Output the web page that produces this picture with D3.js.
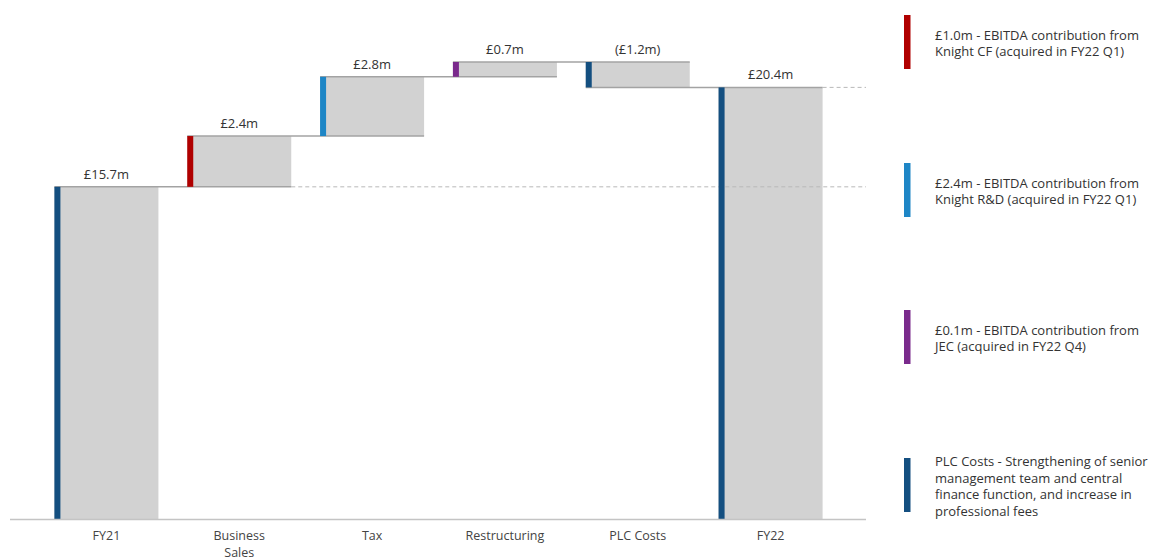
<!DOCTYPE html>
<html>
<head>
<meta charset="utf-8">
<script src="https://cdn.jsdelivr.net/npm/d3@7"></script>
<style>
  html, body { margin: 0; padding: 0; background: #fff; }
  svg { display: block; }
  text { font-family: "Open Sans", "Lato", sans-serif; }
</style>
</head>
<body>
<svg id="chart" width="1154" height="559"></svg>
<script>
// EBITDA bridge FY21 -> FY22 (£m)
const categories = ["FY21", "Business Sales", "Tax", "Restructuring", "PLC Costs", "FY22"];
const axisLabels = [["FY21"], ["Business", "Sales"], ["Tax"], ["Restructuring"], ["PLC Costs"], ["FY22"]];
const values = [15.7, 2.4, 2.8, 0.7, -1.2, 20.4];
const isTotal = [true, false, false, false, false, true];
const stripeColors = ["#144f80", "#b00000", "#1e86c6", "#7a2a8c", "#144f80", "#144f80"];

const legendColors = ["#b00000", "#1e86c6", "#7a2a8c", "#144f80"];
const legendLines = [
  ["£1.0m - EBITDA contribution from", "Knight CF (acquired in FY22 Q1)"],
  ["£2.4m - EBITDA contribution from", "Knight R&D (acquired in FY22 Q1)"],
  ["£0.1m -  EBITDA contribution from", "JEC (acquired in FY22 Q4)"],
  ["PLC Costs - Strengthening of senior", "management team and central", "finance function, and increase in", "professional fees"]
];

// running start/end levels for each bar
let running = 0;
const bars = categories.map((c, i) => {
  let start, end;
  if (isTotal[i]) { start = 0; end = values[i]; running = values[i]; }
  else { start = running; end = running + values[i]; running = end; }
  return { cat: c, value: values[i], start, end, lo: Math.min(start, end), hi: Math.max(start, end), total: isTotal[i], color: stripeColors[i] };
});

const fmt = v => v < 0 ? "(£" + Math.abs(v).toFixed(1) + "m)" : "£" + v.toFixed(1) + "m";

const svg = d3.select("#chart");
const x = d3.scaleBand().domain(categories).range([40, 837]).paddingInner(0.217).paddingOuter(0.1085);
const y = d3.scaleLinear().domain([0, d3.max(bars, d => d.hi)]).range([519, 62]);

const stripeW = 6;
const lineColor = "#a3a3a3";

// grey bodies
svg.append("g").selectAll("rect").data(bars).join("rect")
  .attr("x", d => x(d.cat))
  .attr("y", d => y(d.hi))
  .attr("width", x.bandwidth())
  .attr("height", d => y(d.lo) - y(d.hi))
  .attr("fill", "#d2d2d2");

// dashed reference levels for FY21 and FY22
const firstBar = bars[0], lastBar = bars[bars.length - 1];
svg.append("line")
  .attr("x1", x(categories[1]) + x.bandwidth()).attr("x2", 866)
  .attr("y1", y(firstBar.end)).attr("y2", y(firstBar.end))
  .attr("stroke", "#b8b8b8").attr("stroke-width", 1).attr("stroke-dasharray", "4,3");
svg.append("line")
  .attr("x1", x(lastBar.cat) + x.bandwidth()).attr("x2", 866)
  .attr("y1", y(lastBar.end)).attr("y2", y(lastBar.end))
  .attr("stroke", "#b8b8b8").attr("stroke-width", 1).attr("stroke-dasharray", "4,3");

// connectors between consecutive bars
const links = bars.slice(0, -1).map((d, i) => ({ from: d, to: bars[i + 1], level: d.end }));
svg.append("g").selectAll("line").data(links).join("line")
  .attr("x1", d => x(d.from.cat))
  .attr("x2", d => x(d.to.cat) + x.bandwidth())
  .attr("y1", d => y(d.level))
  .attr("y2", d => y(d.level))
  .attr("stroke", lineColor).attr("stroke-width", 1.5);

// coloured stripes on the left edge of each bar
svg.append("g").selectAll("rect").data(bars).join("rect")
  .attr("x", d => x(d.cat))
  .attr("y", d => y(d.hi))
  .attr("width", stripeW)
  .attr("height", d => y(d.lo) - y(d.hi))
  .attr("fill", d => d.color);

// value labels
svg.append("g").selectAll("text").data(bars).join("text")
  .attr("x", d => x(d.cat) + x.bandwidth() / 2)
  .attr("y", d => y(d.total ? d.hi : Math.max(d.start, d.end)) - 8)
  .attr("text-anchor", "middle")
  .attr("font-size", 13)
  .attr("fill", "#333")
  .text(d => fmt(d.value));

// baseline
svg.append("line")
  .attr("x1", 10).attr("x2", 866)
  .attr("y1", 519.5).attr("y2", 519.5)
  .attr("stroke", "#c4c4c4").attr("stroke-width", 1.5);

// category labels
const xl = svg.append("g").selectAll("text").data(categories).join("text")
  .attr("x", d => x(d) + x.bandwidth() / 2)
  .attr("y", 540)
  .attr("text-anchor", "middle")
  .attr("font-size", 12.5)
  .attr("fill", "#444");
xl.each(function(d, i) {
  d3.select(this).selectAll("tspan").data(axisLabels[i]).join("tspan")
    .attr("x", x(d) + x.bandwidth() / 2)
    .attr("dy", (t, j) => j === 0 ? 0 : 16.5)
    .text(t => t);
});

// side notes
const legendTop = [15, 163, 310, 458];
const lg = svg.append("g").selectAll("g").data(legendLines).join("g");
lg.append("rect")
  .attr("x", 904).attr("y", (d, i) => legendTop[i])
  .attr("width", 6.5)
  .attr("height", 54)
  .attr("fill", (d, i) => legendColors[i]);
lg.append("text")
  .attr("font-size", 13)
  .attr("fill", "#333")
  .each(function(lines, i) {
    d3.select(this).selectAll("tspan").data(lines).join("tspan")
      .attr("x", 935)
      .attr("y", (t, j) => legendTop[i] + (lines.length > 2 ? 8 : 24.5) + j * 16.5)
      .text(t => t);
  });
</script>
</body>
</html>
